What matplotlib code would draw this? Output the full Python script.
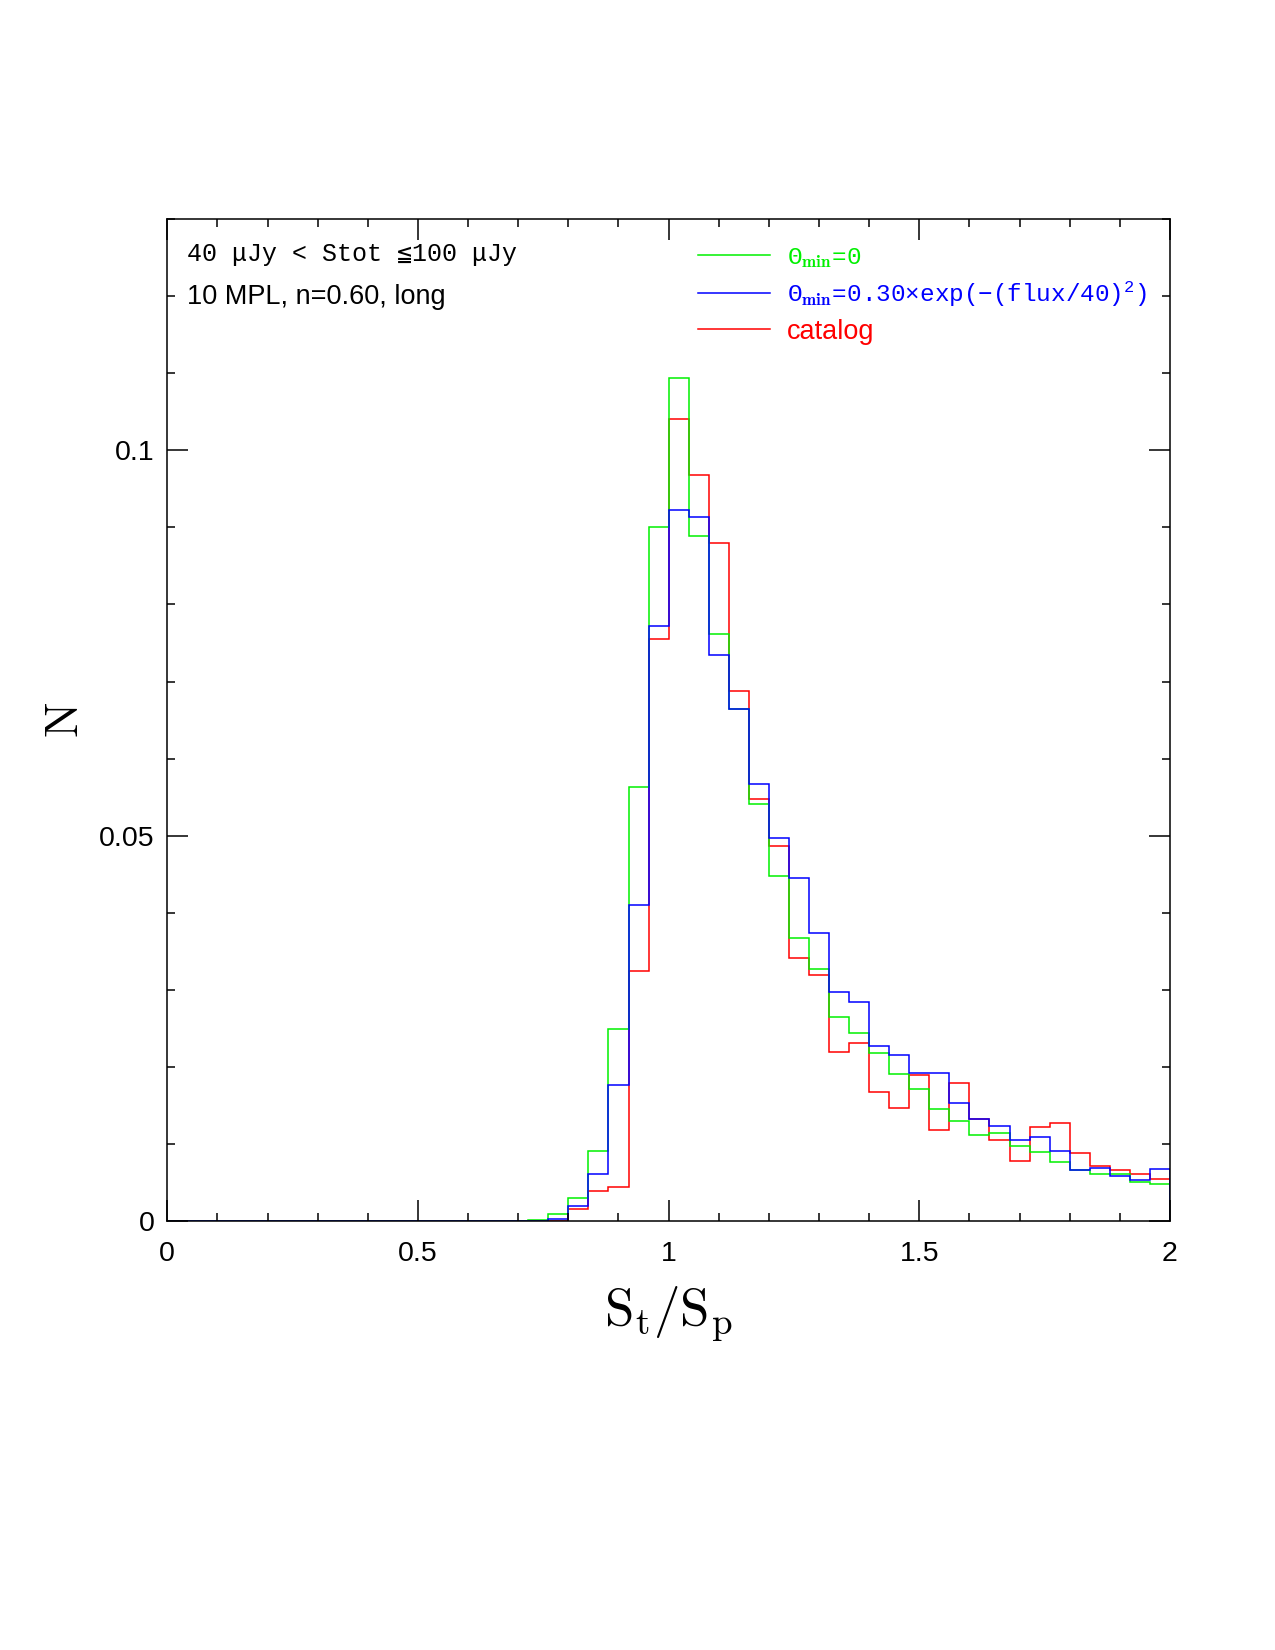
import numpy as np
import matplotlib
matplotlib.use("Agg")
from matplotlib import pyplot as plt
from matplotlib.lines import Line2D
from matplotlib.ticker import MultipleLocator, FixedLocator, FixedFormatter

plt.rcParams['font.family'] = ['Liberation Sans', 'DejaVu Sans']
plt.rcParams['mathtext.fontset'] = 'cm'

# histogram bins: 0 -> 2 in steps of 0.04
bin_edges = np.linspace(0.0, 2.0, 51)

# Theta_min = 0
n_theta0 = [0.0, 0.0, 0.0, 0.0, 0.0, 0.0, 0.0, 0.0, 0.0, 0.0,
            0.0, 0.0, 0.0, 0.0, 0.0,
            0.0000, 0.0001, 0.0001, 0.0002, 0.0009,
            0.0030, 0.0091, 0.0249, 0.0563, 0.0900,
            0.1094, 0.0889, 0.0762, 0.0664, 0.0541,
            0.0448, 0.0368, 0.0327, 0.0265, 0.0244,
            0.0218, 0.0191, 0.0171, 0.0146, 0.0130,
            0.0112, 0.0115, 0.0098, 0.0090, 0.0077,
            0.0067, 0.0062, 0.0061, 0.0051, 0.0049]

# Theta_min = 0.30 x exp(-(flux/40)^2)
n_theta_exp = [0.0, 0.0, 0.0, 0.0, 0.0, 0.0, 0.0, 0.0, 0.0, 0.0,
               0.0, 0.0, 0.0, 0.0, 0.0,
               0.0000, 0.0001, 0.0001, 0.0001, 0.0003,
               0.0020, 0.0061, 0.0177, 0.0410, 0.0772,
               0.0922, 0.0913, 0.0735, 0.0664, 0.0567,
               0.0497, 0.0445, 0.0374, 0.0297, 0.0285,
               0.0227, 0.0216, 0.0192, 0.0192, 0.0153,
               0.0133, 0.0124, 0.0106, 0.0109, 0.0091,
               0.0067, 0.0069, 0.0059, 0.0053, 0.0068]

# catalog
n_catalog = [0.0, 0.0, 0.0, 0.0, 0.0, 0.0, 0.0, 0.0, 0.0, 0.0,
             0.0, 0.0, 0.0, 0.0, 0.0,
             0.0000, 0.0000, 0.0000, 0.0000, 0.0001,
             0.0016, 0.0039, 0.0044, 0.0324, 0.0755,
             0.1041, 0.0968, 0.0879, 0.0688, 0.0548,
             0.0487, 0.0341, 0.0320, 0.0220, 0.0231,
             0.0168, 0.0147, 0.0190, 0.0118, 0.0179,
             0.0133, 0.0106, 0.0078, 0.0122, 0.0128,
             0.0088, 0.0072, 0.0067, 0.0061, 0.0055]

c_green = '#00f000'
c_blue = '#0000ff'
c_red = '#ff0000'

x_ticks = [0, 0.5, 1, 1.5, 2]
x_ticklabels = ['0', '0.5', '1', '1.5', '2']
y_ticks = [0, 0.05, 0.1]
y_ticklabels = ['0', '0.05', '0.1']

label_theta0 = r'$\mathregular{Θ_{\mathbf{min}}\!=\!0}$'
label_theta_exp = r'$\mathregular{Θ_{\mathbf{min}}\!=\!0.30×exp(-(flux/40)^{2})}$'
label_catalog = 'catalog'

mono = ['Liberation Mono', 'DejaVu Sans Mono', 'DejaVu Sans']

fig = plt.figure(figsize=(12.75, 16.5), dpi=100)
ax = fig.add_axes([0.1312, 0.2598, 0.7864, 0.6076])

lw = 1.1
ax.stairs(n_catalog, bin_edges, color=c_red, lw=lw)
ax.stairs(n_theta0, bin_edges, color=c_green, lw=lw)
ax.stairs(n_theta_exp, bin_edges, color=c_blue, lw=lw)

ax.set_xlim(0, 2)
ax.set_ylim(0, 0.13)

# ticks everywhere, pointing in
ax.xaxis.set_major_locator(FixedLocator(x_ticks))
ax.xaxis.set_major_formatter(FixedFormatter(x_ticklabels))
ax.xaxis.set_minor_locator(MultipleLocator(0.1))
ax.yaxis.set_major_locator(FixedLocator(y_ticks))
ax.yaxis.set_major_formatter(FixedFormatter(y_ticklabels))
ax.yaxis.set_minor_locator(MultipleLocator(0.01))
ax.tick_params(which='both', direction='in', top=True, right=True,
               width=1.1, labelsize=20.5)
ax.tick_params(axis='x', which='major', length=15, pad=14)
ax.tick_params(axis='y', which='major', length=15, pad=9)
ax.tick_params(which='minor', length=6)
for s in ax.spines.values():
  s.set_linewidth(1.1)

ax.set_xlabel(r'$\mathrm{S_t/S_p}$', fontsize=38, labelpad=13)
ax.set_ylabel(r'$\mathrm{N}$', fontsize=34, labelpad=8)

# annotation text, top left
ax.text(0.02, 0.965, '40 μJy < Stot ≦100 μJy', family=mono,
        transform=ax.transAxes, fontsize=18, va='center', ha='left')
ax.text(0.02, 0.922, '10 MPL, n=0.60, long',
        transform=ax.transAxes, fontsize=19.5, va='center', ha='left')

# legend
handles = [Line2D([], [], color=c_green, lw=lw),
           Line2D([], [], color=c_blue, lw=lw),
           Line2D([], [], color=c_red, lw=lw)]
leg = ax.legend(handles, [label_theta0, label_theta_exp, label_catalog],
                loc='upper left', bbox_to_anchor=(0.505, 0.998), frameon=False,
                fontsize=19.5, handlelength=2.65, handletextpad=0.65,
                labelspacing=0.36, labelcolor=[c_green, c_blue, c_red])
for t in leg.get_texts()[:2]:
  t.set_fontfamily(mono)
  t.set_fontsize(17.5)

fig.savefig('out.png', dpi=100)
